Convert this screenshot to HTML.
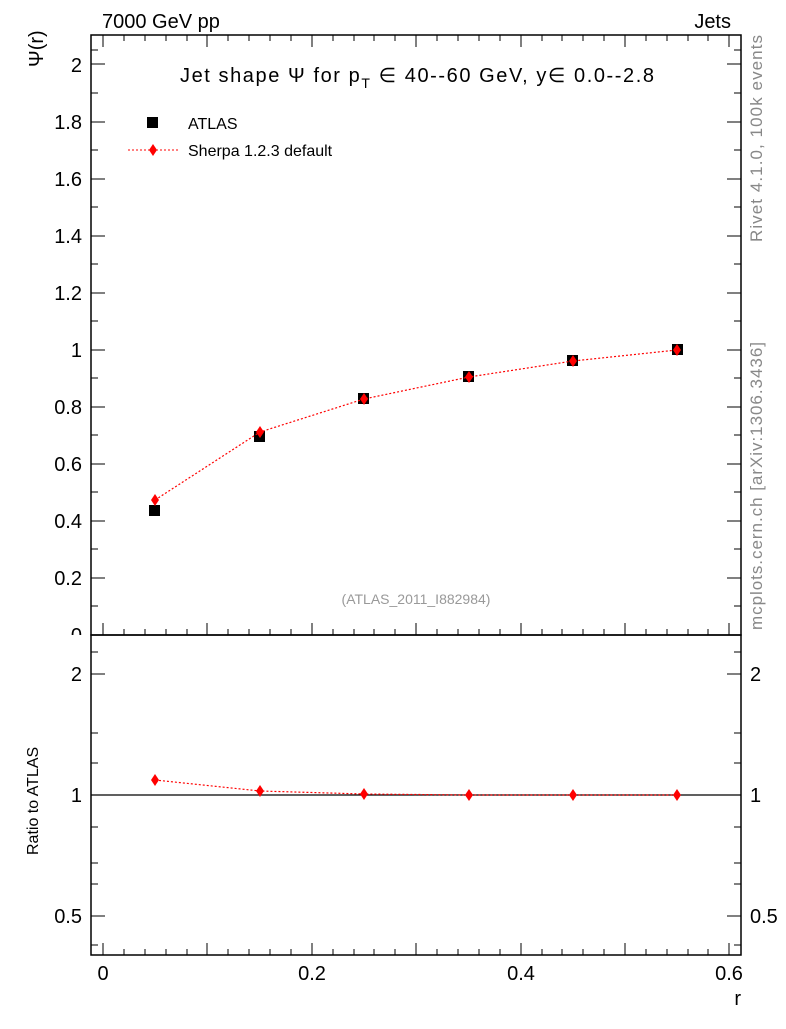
<!DOCTYPE html>
<html><head><meta charset="utf-8"><style>
body{margin:0;background:#fff;}
svg text{font-family:"Liberation Sans",sans-serif;}
</style></head><body>
<svg width="786" height="1024" xmlns="http://www.w3.org/2000/svg">
<rect width="786" height="1024" fill="#fff"/>
<text x="102" y="28" font-size="20">7000 GeV pp</text>
<text x="731" y="28" font-size="20" text-anchor="end">Jets</text>
<text transform="translate(762,242) rotate(-90)" font-size="17" fill="#888" textLength="207" lengthAdjust="spacing">Rivet 4.1.0,  100k events</text>
<text transform="translate(762,630) rotate(-90)" font-size="17" fill="#888" textLength="288" lengthAdjust="spacing">mcplots.cern.ch [arXiv:1306.3436]</text>
<!-- frames -->
<rect x="91" y="35" width="650" height="600" fill="none" stroke="#000" stroke-width="1.5"/>
<rect x="91" y="635" width="650" height="320" fill="none" stroke="#000" stroke-width="1.5"/>
<g id="ticks" stroke="#000" stroke-width="1">
<path d="M91 635h14M91 578h14M91 521h14M91 464h14M91 407h14M91 350h14M91 293h14M91 236h14M91 179h14M91 122h14M91 64h14
M741 578h-14M741 521h-14M741 464h-14M741 407h-14M741 350h-14M741 293h-14M741 236h-14M741 179h-14M741 122h-14M741 64h-14
M91 606h7M91 549h7M91 492h7M91 435h7M91 378h7M91 321h7M91 264h7M91 207h7M91 150h7M91 93h7M91 50h7
M741 606h-7M741 549h-7M741 492h-7M741 435h-7M741 378h-7M741 321h-7M741 264h-7M741 207h-7M741 150h-7M741 93h-7M741 50h-7"/>
<path d="M103 635v-12M207 635v-12M312 635v-12M416 635v-12M521 635v-12M625 635v-12M729 635v-12
M103 955v-12M207 955v-12M312 955v-12M416 955v-12M521 955v-12M625 955v-12M729 955v-12
M103 35v12M207 35v12M312 35v12M416 35v12M521 35v12M625 35v12M729 35v12
M124 635v-6M145 635v-6M166 635v-6M187 635v-6M228 635v-6M249 635v-6M270 635v-6M291 635v-6M333 635v-6M354 635v-6M374 635v-6M395 635v-6M437 635v-6M458 635v-6M479 635v-6M500 635v-6M542 635v-6M562 635v-6M583 635v-6M604 635v-6M646 635v-6M667 635v-6M688 635v-6M708 635v-6
M124 955v-6M145 955v-6M166 955v-6M187 955v-6M228 955v-6M249 955v-6M270 955v-6M291 955v-6M333 955v-6M354 955v-6M374 955v-6M395 955v-6M437 955v-6M458 955v-6M479 955v-6M500 955v-6M542 955v-6M562 955v-6M583 955v-6M604 955v-6M646 955v-6M667 955v-6M688 955v-6M708 955v-6
M124 35v6M145 35v6M166 35v6M187 35v6M228 35v6M249 35v6M270 35v6M291 35v6M333 35v6M354 35v6M374 35v6M395 35v6M437 35v6M458 35v6M479 35v6M500 35v6M542 35v6M562 35v6M583 35v6M604 35v6M646 35v6M667 35v6M688 35v6M708 35v6
M91 674h14M91 795h14M91 916h14M741 674h-14M741 795h-14M741 916h-14
M91 652h7M91 733h7M91 763h7M91 827h7M91 863h7M91 884h7M91 945h7
M741 652h-7M741 733h-7M741 763h-7M741 827h-7M741 863h-7M741 884h-7M741 945h-7"/>
</g>
<g font-size="20" text-anchor="end">
<text x="82" y="585">0.2</text><text x="82" y="528">0.4</text><text x="82" y="471">0.6</text><text x="82" y="414">0.8</text><text x="82" y="357">1</text><text x="82" y="300">1.2</text><text x="82" y="243">1.4</text><text x="82" y="186">1.6</text><text x="82" y="129">1.8</text><text x="82" y="72">2</text>
<text x="82" y="681">2</text><text x="82" y="802">1</text><text x="82" y="923">0.5</text>
</g>
<g font-size="20">
<text x="750" y="681">2</text><text x="750" y="802">1</text><text x="750" y="923">0.5</text>
</g>
<svg x="60" y="620" width="30" height="15"><text x="22" y="22" font-size="20" text-anchor="end">0</text></svg>
<g font-size="20" text-anchor="middle">
<text x="103" y="980">0</text><text x="312" y="980">0.2</text><text x="521" y="980">0.4</text><text x="729" y="980">0.6</text>
</g>
<text x="741" y="1005" font-size="20" text-anchor="end">r</text>
<text transform="translate(43,67) rotate(-90)" font-size="20">Ψ(r)</text>
<text transform="translate(38,855) rotate(-90)" font-size="16">Ratio to ATLAS</text>
<text x="180" y="82" font-size="20" textLength="474" lengthAdjust="spacing">Jet shape Ψ for p<tspan font-size="14" dy="6">T</tspan><tspan dy="-6"> ∈ 40--60 GeV, y∈ 0.0--2.8</tspan></text>
<text x="416" y="604" font-size="14" fill="#999" text-anchor="middle">(ATLAS_2011_I882984)</text>
<rect x="147" y="117" width="11" height="11" fill="#000"/>
<text x="188" y="129" font-size="16">ATLAS</text>
<line x1="128" y1="150" x2="178" y2="150" stroke="red" stroke-dasharray="2,2"/>
<path d="M153 144l4 6-4 6-4-6z" fill="red"/>
<text x="188" y="156" font-size="16">Sherpa 1.2.3 default</text>
<g fill="#000">
<rect x="149" y="505" width="11" height="11"/>
<rect x="254" y="431" width="11" height="11"/>
<rect x="358" y="393" width="11" height="11"/>
<rect x="463" y="371" width="11" height="11"/>
<rect x="567" y="355" width="11" height="11"/>
<rect x="672" y="344" width="11" height="11"/>
</g>
<polyline points="155,500 260,432 364,399 469,377 573,361 677,350" fill="none" stroke="red" stroke-width="1.2" stroke-dasharray="2,2"/>
<g fill="red">
<path d="M155 494l4 6-4 6-4-6z"/><path d="M260 426l4 6-4 6-4-6z"/><path d="M364 393l4 6-4 6-4-6z"/><path d="M469 371l4 6-4 6-4-6z"/><path d="M573 355l4 6-4 6-4-6z"/><path d="M677 344l4 6-4 6-4-6z"/>
</g>
<line x1="91" y1="795" x2="741" y2="795" stroke="#000" stroke-width="1.2"/>
<polyline points="155,780 260,791 364,794 469,795 573,795 677,795" fill="none" stroke="red" stroke-width="1.2" stroke-dasharray="2,2"/>
<g fill="red">
<path d="M155 774l4 6-4 6-4-6z"/><path d="M260 785l4 6-4 6-4-6z"/><path d="M364 788l4 6-4 6-4-6z"/><path d="M469 789l4 6-4 6-4-6z"/><path d="M573 789l4 6-4 6-4-6z"/><path d="M677 789l4 6-4 6-4-6z"/>
</g>
</svg>
</body></html>
